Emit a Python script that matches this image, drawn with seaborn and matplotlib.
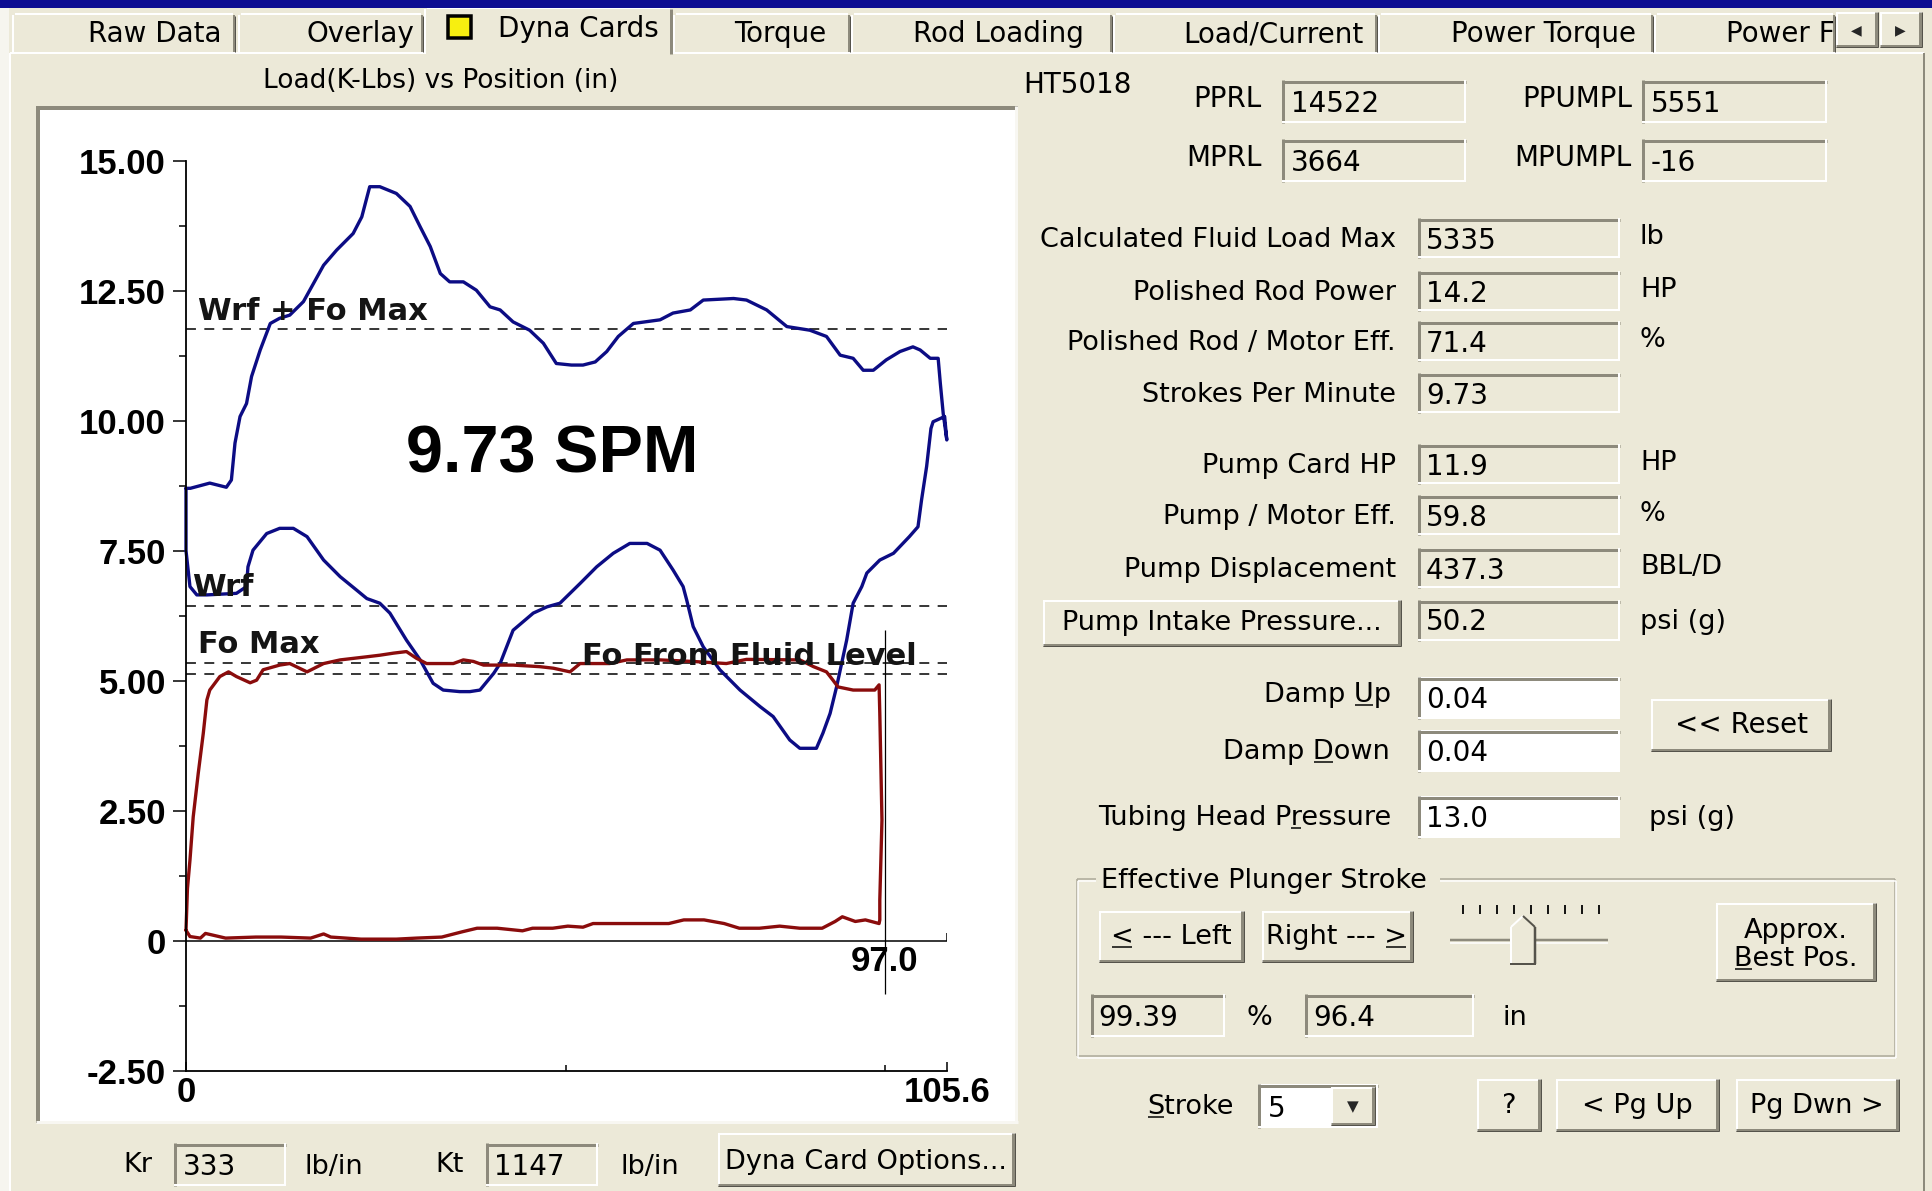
import matplotlib
matplotlib.use("Agg")
import matplotlib.pyplot as plt
from matplotlib.patches import Rectangle, Polygon
from matplotlib.ticker import FixedLocator
import numpy as np
import seaborn as sns

# ---------------- dynamometer card data (position in, load K-lbs) ----------------
SURFACE_POS = [0.0, 0.6, 3.3, 5.6, 6.3, 6.8, 7.5, 8.4, 9.1, 10.3, 11.7, 13.0, 14.4, 16.3, 17.7,
               19.1, 20.9, 23.2, 24.4, 25.5, 26.9, 29.2, 31.1, 32.5, 33.9, 35.3, 36.6, 38.5, 40.3,
               42.2, 43.6, 45.4, 47.7, 49.6, 51.4, 53.5, 55.1, 56.8, 58.4, 60.0, 62.1, 65.8, 67.6,
               70.0, 71.8, 76.0, 77.8, 80.6, 83.4, 86.6, 88.9, 90.8, 92.6, 94.0, 95.4, 97.2, 99.1,
               100.9, 101.9, 103.3, 104.4, 104.7, 105.1, 105.6,
               105.3, 103.7, 103.4, 102.8, 102.1, 101.6, 100.4, 98.2, 96.3, 94.5, 93.8, 92.6, 91.7,
               90.3, 89.4, 88.4, 87.5, 85.2, 83.8, 81.5, 79.7, 76.9, 74.1, 71.8, 70.4, 69.5, 69.0,
               67.6, 65.8, 64.0, 61.6, 59.3, 57.0, 54.7, 51.9, 50.1, 48.2, 45.4, 43.6, 42.7, 40.8,
               39.4, 38.0, 35.7, 34.3, 32.5, 30.6, 28.3, 26.9, 25.1, 23.7, 21.4, 19.1, 16.8, 14.9,
               13.0, 11.2, 9.3, 8.6, 8.4, 7.0, 2.9, 1.5, 0.55, 0.0, 0.0]
SURFACE_LOAD = [8.70, 8.70, 8.80, 8.72, 8.86, 9.57, 10.08, 10.33, 10.85, 11.36, 11.87, 11.97, 12.03,
                12.29, 12.64, 12.99, 13.28, 13.60, 13.92, 14.50, 14.50, 14.37, 14.12, 13.73, 13.35,
                12.83, 12.67, 12.67, 12.51, 12.19, 12.13, 11.90, 11.74, 11.49, 11.10, 11.07, 11.07,
                11.13, 11.33, 11.62, 11.87, 11.94, 12.07, 12.13, 12.32, 12.35, 12.32, 12.13, 11.81,
                11.74, 11.62, 11.26, 11.20, 10.97, 10.97, 11.17, 11.33, 11.42, 11.36, 11.20, 11.20,
                10.72, 10.14, 9.63,
                10.08, 9.98, 9.85, 9.12, 8.48, 7.96, 7.77, 7.45, 7.32, 7.07, 6.81, 6.49, 5.78, 4.88,
                4.37, 3.99, 3.70, 3.70, 3.86, 4.31, 4.50, 4.82, 5.21, 5.65, 6.04, 6.55, 6.81, 7.13,
                7.51, 7.64, 7.64, 7.45, 7.19, 6.87, 6.49, 6.42, 6.30, 5.97, 5.33, 5.14, 4.82, 4.79,
                4.79, 4.82, 4.95, 5.40, 5.78, 6.30, 6.49, 6.58, 6.74, 7.00, 7.32, 7.77, 7.93, 7.93,
                7.83, 7.51, 7.19, 6.81, 6.68, 6.65, 6.65, 6.81, 7.50, 8.70]

PUMP_POS = [0.0, 0.2, 0.55, 1.0, 1.7, 2.4, 2.9, 3.3, 4.7, 5.9, 7.0, 8.9, 9.8, 10.7, 13.0, 14.4,
            16.8, 19.1, 21.4, 25.1, 26.9, 28.8, 30.6, 32.0, 33.4, 37.1, 38.5, 39.9, 41.3, 45.4,
            49.1, 51.0, 53.3, 54.7, 58.8, 61.2, 65.8, 70.4, 75.0, 77.8, 85.2, 87.1, 88.9, 89.8,
            90.5, 92.6, 95.6, 96.2, 96.3, 96.6, 96.3, 96.3,
            96.2, 94.3, 92.9, 91.1, 90.1, 88.3, 85.2, 82.4, 79.6, 76.8, 74.7, 71.9, 69.1, 67.0,
            62.1, 56.5, 55.1, 53.0, 50.9, 48.1, 46.7, 43.2, 40.4, 38.3, 35.5, 32.0, 29.2, 24.3,
            20.1, 19.1, 17.3, 13.2, 9.7, 5.5, 2.7, 2.0, 0.55, 0.0]
PUMP_LOAD = [0.20, 1.00, 1.55, 2.38, 3.22, 3.99, 4.63, 4.82, 5.08, 5.17, 5.08, 4.96, 5.01, 5.21,
             5.30, 5.33, 5.17, 5.33, 5.40, 5.46, 5.49, 5.53, 5.56, 5.43, 5.33, 5.33, 5.40, 5.37,
             5.30, 5.30, 5.27, 5.24, 5.17, 5.33, 5.33, 5.40, 5.40, 5.37, 5.33, 5.41, 5.40, 5.27,
             5.17, 5.01, 4.88, 4.82, 4.82, 4.92, 4.37, 2.32, 0.78, 0.40,
             0.33, 0.40, 0.37, 0.46, 0.37, 0.24, 0.24, 0.28, 0.24, 0.24, 0.33, 0.40, 0.40, 0.33,
             0.33, 0.33, 0.26, 0.28, 0.24, 0.24, 0.19, 0.24, 0.24, 0.17, 0.07, 0.05, 0.03, 0.03,
             0.07, 0.13, 0.05, 0.07, 0.07, 0.05, 0.14, 0.05, 0.08, 0.20]

WRF_FO_MAX = 11.76
WRF = 6.43
FO_MAX = 5.335
FO_FLUID_LEVEL = 5.13
STROKE_LEN = 105.6
STROKE_END = 97.0
SPM_TEXT = "9.73 SPM"

Y_TICKS = [-2.5, 0, 2.5, 5, 7.5, 10, 12.5, 15]
Y_TICK_LABELS = ["-2.50", "0", "2.50", "5.00", "7.50", "10.00", "12.50", "15.00"]
Y_MINOR = [-1.25, 1.25, 3.75, 6.25, 8.75, 11.25, 13.75]
X_TICKS = [0, 105.6]
X_TICK_LABELS = ["0", "105.6"]
X_MINOR = [52.8, 97.0]

# ---------------- panel contents ----------------
TABS = ["Raw Data", "Overlay", "Dyna Cards", "Torque", "Rod Loading",
        "Load/Current", "Power Torque", "Power F"]
WELL_NAME = "HT5018"
TOP_LABELS = ["PPRL", "PPUMPL", "MPRL", "MPUMPL"]
TOP_VALUES = ["14522", "5551", "3664", "-16"]
RESULT_LABELS = ["Calculated Fluid Load Max", "Polished Rod Power", "Polished Rod / Motor Eff.",
                 "Strokes Per Minute", "Pump Card HP", "Pump / Motor Eff.", "Pump Displacement"]
RESULT_VALUES = ["5335", "14.2", "71.4", "9.73", "11.9", "59.8", "437.3"]
RESULT_UNITS = ["lb", "HP", "%", "", "HP", "%", "BBL/D"]
PIP_VALUE = "50.2"
DAMP_UP = "0.04"
DAMP_DOWN = "0.04"
THP_VALUE = "13.0"
EPS_PERCENT = "99.39"
EPS_INCHES = "96.4"
STROKE_NO = "5"
KR_VALUE = "333"
KT_VALUE = "1147"

# ---------------- styling ----------------
BG = "#ECE9D8"
BLUE = "#0c0c84"
RED = "#8a0c0c"
SHADOW = "#8d8a7c"
DARK = "#55534b"
PX = 0.72  # points per pixel at 100 dpi
UI_FONT = "DejaVu Sans"
UI_SIZE = 19.5

sns.set_style("white")
plt.rcParams["font.family"] = ["DejaVu Sans"]

fig = plt.figure(figsize=(19.33, 11.91), dpi=100)
fig.patch.set_facecolor(BG)
ui = fig.add_axes([0, 0, 1, 1], zorder=0)
ui.set_xlim(0, 1933)
ui.set_ylim(1191, 0)
ui.axis("off")
renderer = fig.canvas.get_renderer()


def line(xs, ys, color, w=1.0, z=3):
    ui.plot(xs, ys, color=color, lw=w * PX, solid_capstyle="butt", zorder=z)


def box(x0, y0, x1, y1, fc, z=2):
    ui.add_patch(Rectangle((x0, y0), x1 - x0, y1 - y0, facecolor=fc, edgecolor="none", zorder=z))


def sunken(x0, y0, x1, y1, fc=BG, z=2):
    box(x0, y0, x1, y1, fc, z)
    line([x0, x1], [y0 + 1.5, y0 + 1.5], SHADOW, 3, z + 0.1)
    line([x0 + 1.5, x0 + 1.5], [y0, y1], SHADOW, 3, z + 0.1)
    line([x0, x1], [y1 - 1, y1 - 1], "white", 2, z + 0.1)
    line([x1 - 1, x1 - 1], [y0, y1], "white", 2, z + 0.1)


def raised(x0, y0, x1, y1, z=2):
    box(x0, y0, x1, y1, BG, z)
    line([x0, x1], [y0 + 1, y0 + 1], "white", 2, z + 0.1)
    line([x0 + 1, x0 + 1], [y0, y1], "white", 2, z + 0.1)
    line([x0, x1], [y1 - 1.5, y1 - 1.5], SHADOW, 3, z + 0.1)
    line([x1 - 1.5, x1 - 1.5], [y0, y1], SHADOW, 3, z + 0.1)
    line([x0, x1], [y1, y1], DARK, 1, z + 0.2)
    line([x1, x1], [y0, y1], DARK, 1, z + 0.2)


def width_of(s, size):
    t = ui.text(0, 0, s, fontsize=size, family=UI_FONT)
    w = t.get_window_extent(renderer=renderer).width
    t.remove()
    return w


def label(x, cy, s, ha="left", size=UI_SIZE, under=None, z=6, **kw):
    base = cy + 0.506 * size
    ui.text(x, base, s, ha=ha, va="baseline", fontsize=size, family=UI_FONT,
            color="black", zorder=z, **kw)
    if under is not None:
        full = width_of(s, size)
        left = {"left": x, "right": x - full, "center": x - full / 2}[ha]
        end = left + width_of(s[:under + 1], size)
        start = end - width_of(s[under], size)
        line([start + 1, end - 1], [base + 3.5, base + 3.5], "black", 1.5, z)


# ---------------- window chrome ----------------
box(0, 8, 9, 1191, "#f6f5ef", 1)
line([10, 1924], [53, 53], "white", 2, 2)
line([10, 10], [53, 1191], "white", 2, 2)
line([1924, 1924], [53, 1191], SHADOW, 2, 2)

tab_edges = [(12, 236), (238, 424), (424, 673), (673, 851), (851, 1113),
             (1113, 1378), (1378, 1654), (1654, 1836)]
tab_text_x = [155, 360, 578, 780, 998, 1273, 1544, 1726]
for i, (name, (x0, x1), tx) in enumerate(zip(TABS, tab_edges, tab_text_x)):
    if i == 2:
        box(x0, 7, x1, 55, BG, 3)
        line([x0 + 3, x1 - 3], [8, 8], "white", 2, 3.2)
        line([x0 + 1, x0 + 1], [9, 54], "white", 2, 3.2)
        line([x1 - 1.5, x1 - 1.5], [9, 54], SHADOW, 3, 3.2)
        ui.add_patch(Rectangle((448, 16), 23, 22, facecolor="#f7ef10", edgecolor="black",
                               lw=3.5 * PX, zorder=4))
        label(tx, 27, name, ha="center", size=20, z=4)
    else:
        line([x0 + 3, x1 - 3], [14, 14], "white", 2, 2.5)
        line([x0 + 1, x0 + 1], [15, 52], "white", 2, 2.5)
        line([x1 - 2, x1 - 2], [15, 52], SHADOW, 2, 2.5)
        line([x1 - 0.5, x1 - 0.5], [16, 52], DARK, 1, 2.5)
        ha = "left" if i == len(TABS) - 1 else "center"
        label(tx, 32, name, ha=ha, size=20, z=2.6)

raised(1836, 12, 1878, 47, z=5)
raised(1880, 12, 1922, 47, z=5)
ui.text(1856, 30, "\u25C0", ha="center", va="center", fontsize=10, family="DejaVu Sans", zorder=6)
ui.text(1900, 30, "\u25B6", ha="center", va="center", fontsize=10, family="DejaVu Sans", zorder=6)

box(0, 0, 1933, 8, "#0d0d92", 7)

# ---------------- plot panel ----------------
label(441, 78, "Load(K-Lbs) vs Position (in)", ha="center", size=19)
box(36, 106, 1018, 1123, "white", 1.5)
line([36, 1018], [108, 108], SHADOW, 4, 1.6)
line([38, 38], [106, 1123], SHADOW, 4, 1.6)
line([36, 1018], [1121.5, 1121.5], "#f8f7f2", 3, 1.6)
line([1016.5, 1016.5], [106, 1123], "#f8f7f2", 3, 1.6)

label(138, 1162, "Kr", ha="center")
sunken(174, 1143, 286, 1186)
label(183, 1165, KR_VALUE, size=20)
label(305, 1164, "lb/in")
label(450, 1162, "Kt", ha="center")
sunken(486, 1143, 598, 1186)
label(494, 1165, KT_VALUE, size=20)
label(621, 1164, "lb/in")
raised(718, 1133, 1015, 1186)
label(866, 1159, "Dyna Card Options...", ha="center")

# ---------------- results panel ----------------
label(1023, 83, WELL_NAME, size=20)
top_label_x = [1262, 1632, 1262, 1632]
top_box_x = [(1282, 1466), (1642, 1827), (1282, 1466), (1642, 1827)]
top_cy = [97, 97, 156, 156]
for lab, val, lx, (bx0, bx1), cy in zip(TOP_LABELS, TOP_VALUES, top_label_x, top_box_x, top_cy):
    label(lx, cy, lab, ha="right", size=20)
    sunken(bx0, cy - 17, bx1, cy + 26)
    label(bx0 + 9, cy + 5, val, size=20)

row_cy = [237, 290, 340, 392, 463, 514, 567]
for lab, val, unit, cy in zip(RESULT_LABELS, RESULT_VALUES, RESULT_UNITS, row_cy):
    label(1396, cy, lab, ha="right")
    sunken(1418, cy - 19, 1620, cy + 21)
    label(1426, cy + 2, val, size=20)
    if unit:
        label(1640, cy - 3, unit)

raised(1043, 600, 1401, 646)
label(1222, 620, "Pump Intake Pressure...", ha="center")
sunken(1418, 600, 1620, 641)
label(1426, 620, PIP_VALUE, size=20)
label(1640, 619, "psi (g)")

label(1391, 692, "Damp Up", ha="right", under=5)
sunken(1418, 677, 1620, 719, fc="white")
label(1426, 698, DAMP_UP, size=20)
label(1390, 749, "Damp Down", ha="right", under=5)
sunken(1418, 730, 1620, 772, fc="white")
label(1426, 751, DAMP_DOWN, size=20)
raised(1651, 699, 1831, 751)
label(1742, 723, "<< Reset", ha="center", size=20)
label(1391, 815, "Tubing Head Pressure", ha="right", under=13)
sunken(1418, 796, 1620, 838, fc="white")
label(1426, 817, THP_VALUE, size=20)
label(1649, 815, "psi (g)")

# Effective plunger stroke group
for off, col in ((0, "#aca899"), (1.5, "white")):
    line([1077 + off, 1895 + off], [879 + off, 879 + off], col, 1.5, 2)
    line([1077 + off, 1895 + off], [1056 + off, 1056 + off], col, 1.5, 2)
    line([1077 + off, 1077 + off], [879 + off, 1056 + off], col, 1.5, 2)
    line([1895 + off, 1895 + off], [879 + off, 1056 + off], col, 1.5, 2)
box(1096, 866, 1440, 892, BG, 4)
label(1101, 878, "Effective Plunger Stroke", z=5)
raised(1099, 911, 1244, 962)
label(1171, 934, "< --- Left", ha="center", under=0)
raised(1262, 911, 1413, 962)
label(1337, 934, "Right --- >", ha="center", under=10)
line([1450, 1608], [940, 940], SHADOW, 2.5, 3)
line([1450, 1608], [942.5, 942.5], "white", 1.5, 3)
for tx in np.linspace(1463, 1599, 9):
    line([tx, tx], [905, 914], "black", 1.8, 3)
ui.add_patch(Polygon([(1510, 964), (1510, 927), (1523, 916), (1536, 927), (1536, 964)],
                     closed=True, facecolor=BG, edgecolor="none", zorder=4))
line([1511, 1511], [927, 964], "white", 2, 4.1)
line([1511, 1523], [927, 916], "white", 2, 4.1)
line([1535, 1535], [927, 964], DARK, 2.5, 4.1)
line([1523, 1535], [916, 927], DARK, 2, 4.1)
line([1510, 1536], [963.5, 963.5], DARK, 2, 4.1)
raised(1716, 903, 1876, 981)
label(1796, 928, "Approx.", ha="center")
label(1796, 956, "Best Pos.", ha="center", under=0)
sunken(1091, 994, 1225, 1037)
label(1098, 1016, EPS_PERCENT, size=20)
label(1259, 1015, "%", ha="center")
sunken(1305, 994, 1474, 1037)
label(1313, 1016, EPS_INCHES, size=20)
label(1503, 1015, "in")

label(1234, 1104, "Stroke", ha="right", under=0)
sunken(1258, 1084, 1378, 1128, fc="white")
label(1268, 1107, STROKE_NO, size=20)
raised(1331, 1087, 1375, 1125, z=3)
ui.text(1353, 1107, "\u25BC", ha="center", va="center", fontsize=11, family="DejaVu Sans", zorder=6)
raised(1477, 1079, 1541, 1131)
label(1509, 1103, "?", ha="center")
raised(1556, 1079, 1719, 1131)
label(1637, 1103, "< Pg Up", ha="center")
raised(1736, 1079, 1899, 1131)
label(1817, 1103, "Pg Dwn >", ha="center")

# ---------------- dynamometer card plot ----------------
ax = fig.add_axes([186 / 1933, (1191 - 1070.7) / 1191, 760.8 / 1933, 910 / 1191], zorder=2)
ax.patch.set_alpha(0)

for lvl in (WRF_FO_MAX, WRF, FO_MAX, FO_FLUID_LEVEL):
    ax.axhline(lvl, color="black", lw=1.1, ls=(0, (6.5, 5.5)), zorder=2)
ax.axhline(0, color="black", lw=1.1, zorder=2)
ax.vlines(STROKE_END, -1.03, 5.97, color="black", lw=0.9, zorder=2)
ax.vlines(STROKE_LEN, 0, 0.14, color="black", lw=1.1, zorder=2)

sns.lineplot(x=SURFACE_POS, y=SURFACE_LOAD, sort=False, estimator=None, color=BLUE,
             lw=2.4, ax=ax, zorder=3, clip_on=False)
sns.lineplot(x=PUMP_POS, y=PUMP_LOAD, sort=False, estimator=None, color=RED,
             lw=2.4, ax=ax, zorder=3, clip_on=False)

ax.set_xlim(0, STROKE_LEN)
ax.set_ylim(-2.5, 15)
ax.set_xlabel("")
ax.set_ylabel("")
for side in ("top", "right"):
    ax.spines[side].set_visible(False)
for side in ("left", "bottom"):
    ax.spines[side].set_color("black")
    ax.spines[side].set_linewidth(1.3)
    ax.spines[side].set_zorder(5)

ax.set_yticks(Y_TICKS)
ax.set_yticklabels(Y_TICK_LABELS)
ax.yaxis.set_minor_locator(FixedLocator(Y_MINOR))
ax.set_xticks(X_TICKS)
ax.set_xticklabels(X_TICK_LABELS)
ax.xaxis.set_minor_locator(FixedLocator(X_MINOR))
ax.tick_params(axis="y", which="major", direction="out", length=9.4, width=1.1, pad=5,
               labelsize=25, colors="black", left=True)
ax.tick_params(axis="y", which="minor", direction="out", length=5, width=1.1, colors="black", left=True)
ax.tick_params(axis="x", which="major", direction="in", length=6.5, width=1.1, pad=3.5,
               labelsize=25, colors="black", bottom=True)
ax.tick_params(axis="x", which="minor", direction="in", length=4, width=1.1, colors="black", bottom=True)
for t in ax.get_xticklabels() + ax.get_yticklabels():
    t.set_fontfamily("Liberation Sans")
    t.set_fontweight("bold")

ann = dict(fontsize=22, fontweight="bold", family="DejaVu Sans", color="#141414",
           va="baseline", zorder=4)
ax.text(1.7, 11.94, "Wrf + Fo Max", **ann)
ax.text(0.9, 6.62, "Wrf", **ann)
ax.text(1.7, 5.53, "Fo Max", **ann)
ax.text(54.9, 5.30, "Fo From Fluid Level", **ann)
ax.text(STROKE_END, -0.58, f"{STROKE_END:.1f}", ha="center", va="baseline", fontsize=25,
        fontweight="bold", family="Liberation Sans", color="black", zorder=4)
ax.text(50.9, 9.0, SPM_TEXT, ha="center", va="baseline", fontsize=48,
        fontweight="bold", family="Liberation Sans", color="black", zorder=4)

fig.savefig("out.png", dpi=100, facecolor=BG)
